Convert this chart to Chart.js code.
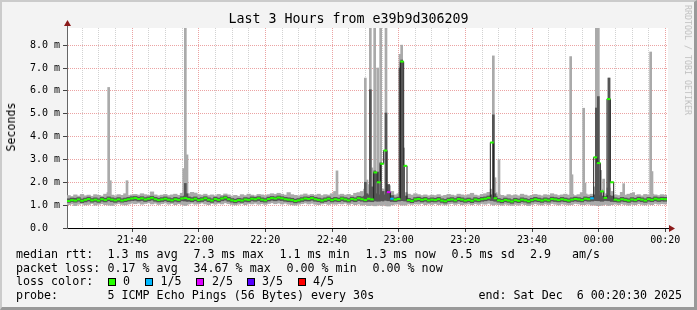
<!DOCTYPE html>
<html>
<head>
<meta charset="utf-8">
<script src="https://cdn.jsdelivr.net/npm/chart.js@4.4.1/dist/chart.umd.min.js"></script>
<style>
  html, body { margin: 0; padding: 0; background: #f3f3f3; }
  #frame { position: relative; width: 697px; height: 310px; background: #f3f3f3; overflow: hidden; }
  #frame canvas { position: absolute; left: 0; top: 0; }
  #edge { position: absolute; left: 0; top: 0; width: 697px; height: 310px; box-sizing: border-box;
          border-style: solid; border-width: 2px 3px 3px 2px;
          border-color: #cbcbcb #999999 #999999 #cbcbcb; pointer-events: none; }
  .t { position: absolute; white-space: pre; font-family: 'DejaVu Sans Mono', monospace;
       font-size: 11.67px; line-height: 14px; color: #000; }
  #title { left: 0; width: 697px; top: 11.4px; text-align: center; font-size: 13.3px; line-height: 16px; }
  #ylabel { left: 10.7px; top: 127px; transform: translate(-50%, -50%) rotate(-90deg); }
  #brand { left: 688px; top: 60px; transform: translate(-50%, -50%) rotate(90deg);
           font-size: 8.3px; line-height: 10px; color: #c0c0c0; }
  .box { position: absolute; width: 8px; height: 8px; box-sizing: border-box; border: 1px solid #000; top: 278px; }
</style>
</head>
<body>
<div id="frame">
  <canvas id="chart" width="697" height="310"></canvas>
  <div class="t" id="title">Last 3 Hours from e39b9d306209</div>
  <div class="t" id="ylabel">Seconds</div>
  <div class="t" id="brand">RRDTOOL / TOBI OETIKER</div>

  <span class="t" style="left:16px;top:247px">median rtt:</span>
  <span class="t" style="left:107.5px;top:247px">1.3 ms avg</span>
  <span class="t" style="left:193.5px;top:247px">7.3 ms max</span>
  <span class="t" style="left:279.5px;top:247px">1.1 ms min</span>
  <span class="t" style="left:365.5px;top:247px">1.3 ms now</span>
  <span class="t" style="left:451.5px;top:247px">0.5 ms sd</span>
  <span class="t" style="left:530px;top:247px">2.9</span>
  <span class="t" style="left:572px;top:247px">am/s</span>

  <span class="t" style="left:16px;top:260.7px">packet loss:</span>
  <span class="t" style="left:107.5px;top:260.7px">0.17 % avg</span>
  <span class="t" style="left:193.5px;top:260.7px">34.67 % max</span>
  <span class="t" style="left:286.5px;top:260.7px">0.00 % min</span>
  <span class="t" style="left:372.5px;top:260.7px">0.00 % now</span>

  <span class="t" style="left:16px;top:274.4px">loss color:</span>
  <div class="box" style="left:108px;background:#26ff00"></div>
  <span class="t" style="left:123px;top:274.4px">0</span>
  <div class="box" style="left:145px;background:#00b8ff"></div>
  <span class="t" style="left:160.5px;top:274.4px">1/5</span>
  <div class="box" style="left:196px;background:#dd00ff"></div>
  <span class="t" style="left:212px;top:274.4px">2/5</span>
  <div class="box" style="left:247px;background:#5500ff"></div>
  <span class="t" style="left:262px;top:274.4px">3/5</span>
  <div class="box" style="left:298px;background:#ff0000"></div>
  <span class="t" style="left:313px;top:274.4px">4/5</span>

  <span class="t" style="left:16px;top:288.1px">probe:</span>
  <span class="t" style="left:107.5px;top:288.1px">5 ICMP Echo Pings (56 Bytes) every 30s</span>
  <span class="t" style="left:478.5px;top:288.1px">end: Sat Dec  6 00:20:30 2025</span>

  <div id="edge"></div>
</div>

<script>
// time axis is in minutes after 21:00; the graph covers 21:20:30 .. 00:20:30
const START_MINUTE = 20.5;
const END_MINUTE = 200.5;
const FIRST_MINUTE = 21; // centre of the first one-minute column

const timeLabelMinutes = [40, 60, 80, 100, 120, 140, 160, 180, 200];
const timeLabels = ['21:40', '22:00', '22:20', '22:40', '23:00', '23:20', '23:40', '00:00', '00:20'];

// median rtt per minute, in ms
const medianRtt = [
  1.18, 1.22, 1.20, 1.25, 1.19, 1.23, 1.27, 1.21, 1.24, 1.20,
  1.26, 1.22, 1.28, 1.24, 1.21, 1.25, 1.20, 1.23, 1.26, 1.29,
  1.31, 1.27, 1.30, 1.25, 1.28, 1.32, 1.26, 1.22, 1.25, 1.28,
  1.24, 1.21, 1.26, 1.23, 1.29, 1.31, 1.27, 1.24, 1.28, 1.22,
  1.25, 1.30, 1.24, 1.20, 1.27, 1.23, 1.29, 1.33, 1.26, 1.21,
  1.18, 1.22, 1.20, 1.25, 1.23, 1.28, 1.26, 1.30, 1.24, 1.21,
  1.27, 1.31, 1.29, 1.33, 1.30, 1.26, 1.24, 1.22, 1.18, 1.21,
  1.25, 1.29, 1.27, 1.31, 1.26, 1.23, 1.20, 1.24, 1.28, 1.22,
  1.26, 1.23, 1.29, 1.25, 1.21, 1.27, 1.24, 1.30, 1.26, 1.22,
  1.28, 1.25, 2.43, 2.00, 2.81, 3.39, 1.57, 1.28, 1.24, 1.27,
  7.28, 2.72, 1.22, 1.18, 1.25, 1.27, 1.23, 1.26, 1.21, 1.24,
  1.22, 1.26, 1.20, 1.17, 1.23, 1.25, 1.21, 1.27, 1.24, 1.20,
  1.23, 1.19, 1.25, 1.22, 1.26, 1.28, 1.32, 3.74, 1.30, 1.21,
  1.18, 1.23, 1.20, 1.16, 1.22, 1.19, 1.24, 1.21, 1.17, 1.22,
  1.26, 1.23, 1.20, 1.24, 1.21, 1.27, 1.25, 1.22, 1.26, 1.23,
  1.20, 1.24, 1.27, 1.25, 1.22, 1.28, 1.26, 1.30, 3.09, 2.84,
  1.60, 1.32, 5.64, 2.00, 1.24, 1.21, 1.26, 1.23, 1.20, 1.25,
  1.22, 1.27, 1.24, 1.20, 1.26, 1.23, 1.28, 1.25, 1.27, 1.26
];

// outer smoke (fastest / slowest ping) per minute, in ms
const smokeLow = [
  1.02, 1.05, 0.98, 1.04, 1.06, 1.01, 1.03, 1.07, 1.00, 1.04,
  1.06, 1.02, 1.05, 0.99, 1.04, 1.07, 1.03, 1.01, 1.05, 1.08,
  1.06, 1.09, 1.04, 1.07, 1.10, 1.05, 1.08, 1.03, 1.06, 1.09,
  1.04, 1.07, 1.02, 1.06, 1.03, 0.99, 1.05, 1.08, 1.04, 1.06,
  1.09, 1.05, 1.02, 1.07, 1.04, 1.08, 1.05, 1.10, 1.06, 1.03,
  1.01, 1.04, 1.06, 1.02, 1.07, 1.05, 1.08, 1.04, 1.06, 1.03,
  1.07, 1.10, 1.06, 1.09, 1.05, 1.08, 1.04, 1.02, 1.00, 1.04,
  1.06, 1.09, 1.05, 1.08, 1.04, 1.02, 1.05, 1.07, 1.03, 1.06,
  1.04, 1.07, 1.05, 1.08, 1.03, 1.06, 1.02, 1.05, 1.00, 1.02,
  0.98, 1.00, 0.97, 1.02, 0.99, 1.03, 0.96, 1.01, 1.04, 1.06,
  1.02, 1.00, 1.05, 1.03, 1.06, 1.04, 1.07, 1.02, 1.05, 1.03,
  1.06, 1.02, 1.04, 1.01, 1.05, 1.07, 1.03, 1.06, 1.02, 1.04,
  1.05, 1.02, 1.06, 1.03, 1.07, 1.04, 1.08, 1.03, 1.05, 1.02,
  1.00, 1.04, 1.01, 0.99, 1.03, 1.00, 1.05, 1.02, 0.98, 1.03,
  1.06, 1.03, 1.01, 1.05, 1.02, 1.07, 1.04, 1.01, 1.05, 1.03,
  1.01, 1.04, 1.07, 1.05, 1.02, 1.06, 1.04, 1.00, 1.02, 0.98,
  1.00, 1.03, 0.99, 1.02, 1.05, 1.02, 1.06, 1.03, 1.00, 1.04,
  1.02, 1.06, 1.03, 1.01, 1.05, 1.02, 1.07, 1.04, 1.06, 1.05
];
const smokeHigh = [
  1.42, 1.38, 1.45, 1.40, 1.47, 1.41, 1.44, 1.39, 1.46, 1.43,
  1.40, 1.48, 1.55, 1.44, 1.41, 1.46, 1.43, 1.50, 1.42, 1.45,
  1.47, 1.44, 1.50, 1.46, 1.43, 1.58, 1.45, 1.41, 1.44, 1.47,
  1.42, 1.45, 1.48, 1.43, 1.52, 1.55, 1.50, 1.56, 1.53, 1.46,
  1.44, 1.48, 1.42, 1.45, 1.41, 1.47, 1.43, 1.49, 1.45, 1.40,
  1.43, 1.39, 1.46, 1.42, 1.48, 1.44, 1.41, 1.47, 1.45, 1.42,
  1.46, 1.50, 1.47, 1.52, 1.48, 1.44, 1.55, 1.46, 1.43, 1.41,
  1.45, 1.49, 1.44, 1.47, 1.43, 1.48, 1.42, 1.46, 1.44, 1.50,
  1.60, 1.45, 1.48, 1.44, 1.47, 1.43, 1.52, 1.55, 1.60, 1.70,
  1.90, 1.80, 2.00, 1.90, 1.70, 1.60, 1.85, 1.60, 1.45, 1.50,
  1.60, 1.55, 1.48, 1.44, 1.50, 1.46, 1.42, 1.45, 1.41, 1.44,
  1.42, 1.46, 1.40, 1.43, 1.47, 1.44, 1.41, 1.48, 1.45, 1.42,
  1.46, 1.52, 1.44, 1.41, 1.47, 1.50, 1.56, 1.70, 1.55, 1.46,
  1.43, 1.40, 1.46, 1.42, 1.45, 1.41, 1.48, 1.44, 1.40, 1.43,
  1.47, 1.44, 1.41, 1.46, 1.43, 1.50, 1.46, 1.42, 1.45, 1.48,
  1.44, 1.47, 1.42, 1.46, 1.55, 1.49, 1.45, 1.48, 1.80, 1.90,
  1.70, 1.50, 1.75, 1.60, 1.45, 1.42, 1.56, 1.44, 1.48, 1.52,
  1.43, 1.46, 1.41, 1.47, 1.44, 1.48, 1.45, 1.42, 1.46, 1.44
];

// inner smoke (2nd / 4th ping) per minute, in ms
const innerLow = [
  1.12, 1.15, 1.13, 1.17, 1.11, 1.14, 1.18, 1.13, 1.16, 1.12,
  1.17, 1.14, 1.19, 1.15, 1.12, 1.16, 1.13, 1.15, 1.18, 1.20,
  1.21, 1.18, 1.20, 1.16, 1.19, 1.22, 1.17, 1.14, 1.16, 1.19,
  1.15, 1.13, 1.17, 1.14, 1.19, 1.18, 1.17, 1.15, 1.19, 1.14,
  1.16, 1.20, 1.15, 1.12, 1.18, 1.14, 1.19, 1.22, 1.17, 1.13,
  1.10, 1.14, 1.12, 1.16, 1.14, 1.19, 1.17, 1.20, 1.15, 1.13,
  1.18, 1.21, 1.19, 1.22, 1.20, 1.17, 1.15, 1.14, 1.10, 1.13,
  1.16, 1.19, 1.18, 1.21, 1.17, 1.15, 1.12, 1.15, 1.19, 1.14,
  1.17, 1.15, 1.19, 1.16, 1.13, 1.18, 1.15, 1.20, 1.17, 1.14,
  1.16, 1.15, 1.18, 1.17, 1.20, 1.22, 1.19, 1.16, 1.15, 1.18,
  1.20, 1.18, 1.14, 1.11, 1.16, 1.18, 1.14, 1.17, 1.13, 1.15,
  1.14, 1.17, 1.12, 1.09, 1.15, 1.16, 1.13, 1.18, 1.15, 1.12,
  1.15, 1.11, 1.16, 1.14, 1.17, 1.19, 1.22, 1.20, 1.18, 1.13,
  1.10, 1.15, 1.12, 1.08, 1.14, 1.11, 1.15, 1.13, 1.09, 1.14,
  1.17, 1.15, 1.12, 1.16, 1.13, 1.18, 1.16, 1.14, 1.17, 1.15,
  1.12, 1.16, 1.18, 1.16, 1.14, 1.19, 1.17, 1.18, 1.20, 1.19,
  1.17, 1.20, 1.19, 1.16, 1.15, 1.13, 1.17, 1.15, 1.12, 1.16,
  1.14, 1.18, 1.15, 1.12, 1.17, 1.15, 1.19, 1.16, 1.18, 1.17
];
const innerHigh = [
  1.28, 1.31, 1.30, 1.33, 1.27, 1.31, 1.35, 1.29, 1.32, 1.28,
  1.34, 1.30, 1.36, 1.32, 1.29, 1.33, 1.28, 1.31, 1.34, 1.37,
  1.38, 1.35, 1.37, 1.33, 1.36, 1.39, 1.34, 1.30, 1.33, 1.36,
  1.32, 1.29, 1.34, 1.31, 1.37, 1.40, 1.36, 1.33, 1.36, 1.30,
  1.33, 1.37, 1.32, 1.28, 1.35, 1.31, 1.36, 1.40, 1.34, 1.29,
  1.26, 1.30, 1.28, 1.33, 1.31, 1.36, 1.34, 1.37, 1.32, 1.29,
  1.35, 1.38, 1.36, 1.40, 1.37, 1.34, 1.32, 1.30, 1.26, 1.29,
  1.33, 1.36, 1.35, 1.38, 1.34, 1.31, 1.28, 1.32, 1.36, 1.30,
  1.34, 1.31, 1.36, 1.33, 1.29, 1.35, 1.32, 1.38, 1.36, 1.40,
  1.45, 1.42, 1.50, 1.45, 1.40, 1.45, 1.55, 1.42, 1.32, 1.35,
  1.45, 1.40, 1.30, 1.26, 1.33, 1.35, 1.31, 1.34, 1.29, 1.32,
  1.30, 1.34, 1.28, 1.25, 1.31, 1.33, 1.29, 1.35, 1.32, 1.28,
  1.31, 1.27, 1.33, 1.30, 1.34, 1.36, 1.40, 1.45, 1.38, 1.29,
  1.26, 1.31, 1.28, 1.24, 1.30, 1.27, 1.32, 1.29, 1.25, 1.30,
  1.34, 1.31, 1.28, 1.32, 1.29, 1.35, 1.33, 1.30, 1.34, 1.31,
  1.28, 1.32, 1.35, 1.33, 1.30, 1.36, 1.34, 1.38, 1.45, 1.42,
  1.40, 1.38, 1.42, 1.40, 1.32, 1.29, 1.34, 1.31, 1.28, 1.33,
  1.30, 1.35, 1.32, 1.28, 1.34, 1.31, 1.36, 1.33, 1.35, 1.34
];

// short spikes at 30 s resolution (minute after 21:00), in ms
const spikeMinutes   = [33.0, 33.5, 38.5, 55.5, 56.0, 56.5, 101.5, 110.0, 110.5, 111.5, 112.0, 112.8, 113.7, 114.6, 115.3, 116.2, 117.0, 120.4, 120.9, 121.5, 148.4, 148.9, 150.1, 171.6, 172.0, 175.5, 175.9, 179.3, 179.9, 180.6, 181.5, 183.1, 187.5, 190.5, 195.6, 196.0];
const spikeOuterLow  = [1.00, 1.02, 1.04, 1.02, 1.00, 1.03, 1.05, 1.04, 1.02, 1.00, 1.02, 0.98, 1.00, 0.99, 1.03, 0.97, 1.01, 1.03, 1.00, 1.02, 1.00, 1.03, 1.05, 1.04, 1.03, 1.04, 1.02, 0.99, 0.98, 1.00, 1.03, 1.01, 1.04, 1.05, 1.03, 1.04];
const spikeOuterHigh = [6.15, 2.07, 2.07, 2.60, 8.75, 3.20, 2.50, 6.56, 2.10, 8.75, 2.63, 8.75, 7.00, 8.75, 1.70, 8.75, 1.90, 7.60, 8.00, 3.50, 7.53, 2.20, 2.99, 7.50, 2.33, 5.24, 1.97, 8.75, 8.75, 2.52, 2.14, 6.56, 1.94, 1.55, 7.70, 2.47];
const spikeInnerLow  = [null, null, null, null, 1.20, 1.18, null, 1.20, 1.18, 1.22, 1.18, 1.20, 1.22, 1.20, 1.18, 1.22, 1.20, 1.22, 1.20, 1.20, 1.22, 1.18, null, null, null, null, null, 1.20, 1.22, 1.20, null, 1.20, null, null, null, null];
const spikeInnerHigh = [null, null, null, null, 1.95, 1.50, null, 2.00, 1.50, 6.05, 1.80, 2.50, 2.45, 2.85, 1.60, 5.03, 1.90, 7.00, 7.35, 2.75, 4.95, 1.50, null, null, null, null, null, 5.25, 5.75, 1.60, null, 6.56, null, null, null, null];

// minutes (index into medianRtt) that lost pings, and how many of 5
const lossColumns = [96, 97, 157];
const lossFifths = [2, 1, 1];
const lossColors = ['#26ff00', '#00b8ff', '#dd00ff', '#5500ff', '#ff0000'];

const GRID_MINOR = '#d2d2d2';
const GRID_MAJOR = '#eba3a3';
const SMOKE_OUTER = '#aaaaaa';
const SMOKE_INNER = '#555555';

const minuteX = medianRtt.map((_, i) => FIRST_MINUTE + i);
const outerBand = minuteX.map((x, i) => ({ x, y: [smokeLow[i], smokeHigh[i]] }));
const innerBand = minuteX.map((x, i) => ({ x, y: [innerLow[i], innerHigh[i]] }));
const spikeOuter = spikeMinutes.map((x, i) => ({ x, y: [spikeOuterLow[i], spikeOuterHigh[i]] }));
const spikeInner = spikeMinutes
  .map((x, i) => ({ x, lo: spikeInnerLow[i], hi: spikeInnerHigh[i] }))
  .filter((p) => p.hi !== null)
  .map((p) => ({ x: p.x, y: [p.lo, p.hi] }));
const medianPoints = minuteX.map((x, i) => ({ x, y: medianRtt[i] }));
const medianColors = medianRtt.map((_, i) => {
  const k = lossColumns.indexOf(i);
  return lossColors[k < 0 ? 0 : lossFifths[k]];
});

const xMinorTicks = [];
for (let m = 25; m <= 200; m += 5) xMinorTicks.push(m);
const yTicks = [];
for (let v = 0; v <= 8.5; v += 0.5) yTicks.push(v);

const plotDecor = {
  id: 'plotDecor',
  beforeDraw(chart) {
    const { ctx, chartArea: a } = chart;
    ctx.save();
    ctx.fillStyle = '#ffffff';
    ctx.fillRect(a.left, a.top, a.right - a.left + 1, a.bottom - a.top);
    ctx.restore();
  },
  afterDraw(chart) {
    const { ctx, chartArea: a } = chart;
    const xl = Math.round(a.left) + 0.5;
    const yb = Math.round(a.bottom) + 0.5;
    ctx.save();
    ctx.lineWidth = 1;
    ctx.strokeStyle = '#666666';
    ctx.beginPath();
    ctx.moveTo(xl, a.top);
    ctx.lineTo(xl, a.top - 5);
    ctx.stroke();
    ctx.strokeStyle = '#000000';
    ctx.beginPath();
    ctx.moveTo(a.right, yb);
    ctx.lineTo(a.right + 3, yb);
    ctx.stroke();
    ctx.fillStyle = '#8b1a1a';
    ctx.beginPath();
    ctx.moveTo(xl - 3.5, a.top - 2);
    ctx.lineTo(xl + 3.5, a.top - 2);
    ctx.lineTo(xl, a.top - 8);
    ctx.closePath();
    ctx.fill();
    ctx.beginPath();
    ctx.moveTo(a.right + 2, yb - 3.5);
    ctx.lineTo(a.right + 2, yb + 3.5);
    ctx.lineTo(a.right + 8, yb);
    ctx.closePath();
    ctx.fill();
    ctx.restore();
  }
};

Chart.defaults.font.family = "'DejaVu Sans Mono', monospace";
Chart.defaults.font.size = 10;
Chart.defaults.color = '#000000';

new Chart(document.getElementById('chart'), {
  type: 'bar',
  data: {
    datasets: [
      { type: 'bar', data: outerBand, backgroundColor: SMOKE_OUTER, barThickness: 3.6, grouped: false, borderWidth: 0, order: 6 },
      { type: 'bar', data: spikeOuter, backgroundColor: SMOKE_OUTER, barThickness: 2, grouped: false, borderWidth: 0, order: 5 },
      { type: 'bar', data: innerBand, backgroundColor: SMOKE_INNER, barThickness: 3.6, grouped: false, borderWidth: 0, order: 4 },
      { type: 'bar', data: spikeInner, backgroundColor: SMOKE_INNER, barThickness: 2, grouped: false, borderWidth: 0, order: 3 },
      { type: 'line', data: medianPoints, stepped: 'middle', borderColor: '#202020', borderWidth: 1, pointRadius: 0, order: 2 },
      { type: 'line', data: medianPoints, showLine: false, pointStyle: 'line', pointRadius: 1.8,
        pointBorderWidth: 2, pointBorderColor: medianColors, pointBackgroundColor: medianColors, order: 1 }
    ]
  },
  options: {
    responsive: false,
    animation: false,
    devicePixelRatio: 1,
    layout: { padding: { left: 0, top: 28, right: 30, bottom: 62 } },
    plugins: { legend: { display: false }, tooltip: { enabled: false } },
    scales: {
      x: {
        type: 'linear',
        min: START_MINUTE,
        max: END_MINUTE,
        offset: false,
        afterBuildTicks: (scale) => { scale.ticks = xMinorTicks.map((value) => ({ value })); },
        afterFit: (scale) => { scale.height = 20; },
        grid: {
          offset: false,
          color: (ctx) => (ctx.tick && timeLabelMinutes.includes(ctx.tick.value) ? GRID_MAJOR : GRID_MINOR),
          tickColor: (ctx) => (ctx.tick && timeLabelMinutes.includes(ctx.tick.value) ? '#444444' : 'rgba(0,0,0,0)'),
          tickLength: 4
        },
        border: { color: '#000000', width: 1, dash: [1, 1] },
        ticks: {
          autoSkip: false,
          maxRotation: 0,
          padding: 2,
          callback: (value) => {
            const k = timeLabelMinutes.indexOf(value);
            return k < 0 ? '' : timeLabels[k];
          }
        }
      },
      y: {
        min: 0,
        max: 8.75,
        afterBuildTicks: (scale) => { scale.ticks = yTicks.map((value) => ({ value })); },
        afterFit: (scale) => { scale.width = 67; },
        grid: {
          color: (ctx) => (ctx.tick && Number.isInteger(ctx.tick.value) ? GRID_MAJOR : GRID_MINOR),
          tickColor: (ctx) => (ctx.tick && Number.isInteger(ctx.tick.value) ? '#444444' : 'rgba(0,0,0,0)'),
          tickLength: 4
        },
        border: { color: '#666666', width: 1, dash: [1, 1] },
        ticks: {
          padding: 3,
          callback: (value) => {
            if (!Number.isInteger(value)) return '';
            return value === 0 ? '0.0  ' : value.toFixed(1) + ' m';
          }
        }
      }
    }
  },
  plugins: [plotDecor]
});
</script>
</body>
</html>
